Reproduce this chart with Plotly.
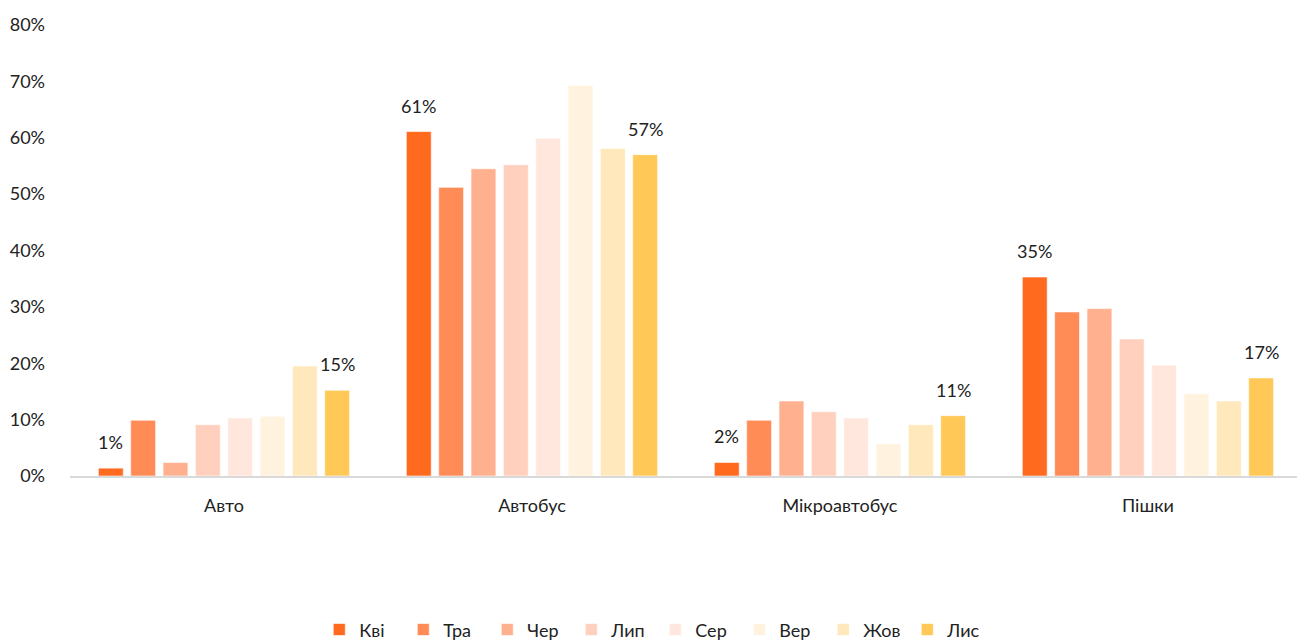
import plotly.graph_objects as go

categories = ["Авто", "Автобус", "Мікроавтобус", "Пішки"]
months = ["Кві", "Тра", "Чер", "Лип", "Сер", "Вер", "Жов", "Лис"]
values = {
    "Кві": [1.4, 61.1, 2.4, 35.3],
    "Тра": [9.9, 51.2, 9.9, 29.1],
    "Чер": [2.4, 54.5, 13.3, 29.7],
    "Лип": [9.1, 55.2, 11.4, 24.3],
    "Сер": [10.3, 59.9, 10.3, 19.7],
    "Вер": [10.6, 69.3, 5.7, 14.6],
    "Жов": [19.5, 58.1, 9.1, 13.3],
    "Лис": [15.2, 57.0, 10.7, 17.4],
}
labeled = ["Кві", "Лис"]
colors = ["#FF6A1F", "#FF8C57", "#FFB18F", "#FFD0BD", "#FFE7DE", "#FFF3DF", "#FFE8BB", "#FFC857"]
y_ticks = [0, 10, 20, 30, 40, 50, 60, 70, 80]

FONT = "Lato, 'Open Sans', sans-serif"
W, H = 1297, 644
ML, MR, MT, MB = 70, 0, 25, 168
BARGAP = 0.16
X_RANGE = [-0.5, 3.484]

fig = go.Figure()
for m, c in zip(months, colors):
    fig.add_trace(go.Bar(
        name=m,
        x=categories,
        y=values[m],
        marker=dict(color=c, line=dict(color="rgba(255,255,255,0.6)", width=1)),
        hoverinfo="skip",
    ))

# data labels above the first and last series of each group
plot_w = W - ML - MR
cat_px = plot_w / (X_RANGE[1] - X_RANGE[0])
slot = cat_px * (1 - BARGAP) / len(months)
for m in labeled:
    i = months.index(m)
    shift = (i - (len(months) - 1) / 2) * slot
    for cat, v in zip(categories, values[m]):
        fig.add_annotation(
            x=cat, y=v, xref="x", yref="y",
            text=f"{round(v):.0f}%",
            showarrow=False,
            xshift=shift, yshift=26,
            font=dict(size=18, color="#222222", family=FONT),
        )

fig.update_layout(
    width=W,
    height=H,
    barmode="group",
    bargap=BARGAP,
    bargroupgap=0.23,
    plot_bgcolor="white",
    paper_bgcolor="white",
    font=dict(family=FONT, size=18, color="#222222"),
    margin=dict(l=ML, r=MR, t=MT, b=MB, autoexpand=False),
    showlegend=True,
    legend=dict(
        orientation="h",
        x=0.477,
        xanchor="center",
        y=-0.30,
        yanchor="top",
        entrywidth=39,
        font=dict(size=18, family=FONT),
        itemwidth=30,
        traceorder="normal",
    ),
)
fig.update_xaxes(
    range=X_RANGE,
    showline=True,
    linecolor="#d9d9d9",
    linewidth=2,
    ticks="",
    showgrid=False,
    tickfont=dict(size=18),
    ticklabelstandoff=12,
)
fig.update_yaxes(
    range=[0, 80],
    tickvals=y_ticks,
    ticktext=[f"{t}%" for t in y_ticks],
    showgrid=False,
    zeroline=False,
    showline=False,
    tickfont=dict(size=18),
    ticklabelstandoff=24,
)

fig.write_html(
    "out.html",
    config={"displayModeBar": False},
    post_script="document.body.style.margin='0';",
)
